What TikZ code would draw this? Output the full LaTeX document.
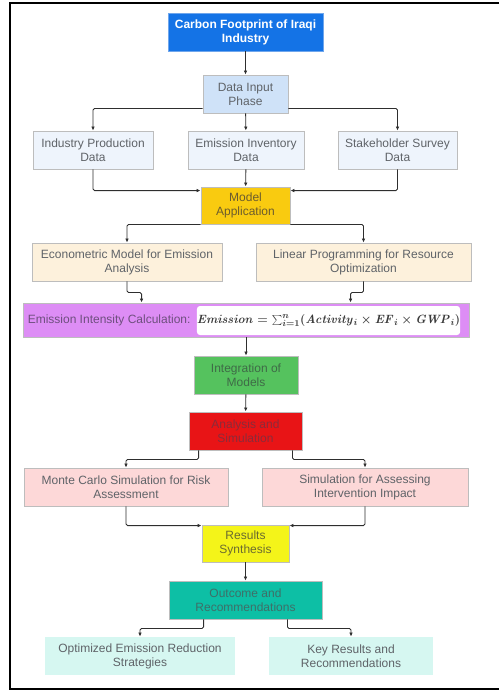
\documentclass[tikz,border=0pt]{standalone}
\usepackage[no-math]{fontspec}
\setmainfont{Liberation Sans}
\usetikzlibrary{arrows.meta,calc}
\definecolor{txt}{HTML}{5F6368}
\definecolor{bord}{HTML}{BDBDBD}
\definecolor{lnc}{HTML}{2E2E2E}
\definecolor{cTitle}{HTML}{1473E6}
\definecolor{cTitleB}{HTML}{6FA6EC}
\definecolor{cInput}{HTML}{CFE2F8}
\definecolor{cData}{HTML}{EEF4FC}
\definecolor{cModel}{HTML}{F9CB10}
\definecolor{tModel}{HTML}{6B5C2E}
\definecolor{cCream}{HTML}{FDF1DC}
\definecolor{cViolet}{HTML}{DD8DF5}
\definecolor{tViolet}{HTML}{6E4F7E}
\definecolor{tFormula}{HTML}{3A3A3A}
\definecolor{cGreen}{HTML}{55C25E}
\definecolor{tGreen}{HTML}{3F6B47}
\definecolor{cRed}{HTML}{E81416}
\definecolor{tRed}{HTML}{8B2B3A}
\definecolor{cPink}{HTML}{FDD8D8}
\definecolor{cYellow}{HTML}{F4F419}
\definecolor{tYellow}{HTML}{6B6B30}
\definecolor{cTeal}{HTML}{0DBFA5}
\definecolor{tTeal}{HTML}{3E6F68}
\definecolor{cCyan}{HTML}{D6F7F1}
\newcommand{\emformula}{\mbox{\boldmath$\mathit{Emission}=\sum\nolimits_{i=1}^{n}(\mathit{Activity}_{i}\times\mathit{EF}_{i}\times\mathit{GWP}_{i})$}}
\begin{document}
\begin{tikzpicture}[x=1pt,y=-1pt,
  box/.style={draw=bord,line width=0.9pt,inner sep=0pt,align=center,text=txt,
    font=\fontsize{12}{14}\selectfont},
  arr/.style={draw=lnc,line width=0.9pt,rounded corners=1.5pt,-{Latex[length=4pt,width=3.6pt]}},
  fbox/.style={fill=white,rounded corners=3pt,minimum width=263pt,minimum height=29pt,inner sep=0pt,text=tFormula,font=\fontsize{13}{14}\selectfont}
]
\useasboundingbox (0,0) rectangle (499,691);
\draw[line width=2pt] (499,3) -- (10,3) -- (10,689) -- (499,689);

% nodes
\node[box,fill=cTitle,draw=cTitleB,text=white,font=\fontsize{12}{14}\selectfont\bfseries,
  minimum width=155pt,minimum height=38pt] (title) at (245.5,32) {Carbon Footprint of Iraqi\\Industry};
\node[box,fill=cInput,minimum width=85pt,minimum height=38pt] (input) at (245.5,94) {Data Input\\Phase};
\node[box,fill=cData,minimum width=120pt,minimum height=38pt] (ind) at (93,150) {Industry Production\\Data};
\node[box,fill=cData,minimum width=116pt,minimum height=38pt] (inv) at (246,150) {Emission Inventory\\Data};
\node[box,fill=cData,minimum width=119pt,minimum height=38pt] (stake) at (397.5,150) {Stakeholder Survey\\Data};
\node[box,fill=cModel,text=tModel,minimum width=89pt,minimum height=37pt] (model) at (245.5,205.5) {Model\\Application};
\node[box,fill=cCream,minimum width=190pt,minimum height=38pt] (econ) at (127,262) {Econometric Model for Emission\\Analysis};
\node[box,fill=cCream,minimum width=215pt,minimum height=38pt] (lin) at (363.5,262) {Linear Programming for Resource\\Optimization};
\node[box,fill=cViolet,minimum width=446pt,minimum height=34pt] (emis) at (246,320) {};
\node[anchor=west,inner sep=0pt,text=tViolet,font=\fontsize{12}{14}\selectfont] (emislab) at ([xshift=5pt]emis.west) {Emission Intensity Calculation:};
\node[fbox] (formula) at (328.5,320.5) {\emformula};
\node[box,fill=cGreen,text=tGreen,minimum width=104pt,minimum height=38pt] (integ) at (246,375) {Integration of\\Models};
\node[box,fill=cRed,text=tRed,minimum width=113pt,minimum height=38pt] (anal) at (245.5,431) {Analysis and\\Simulation};
\node[box,fill=cPink,minimum width=204pt,minimum height=38pt] (monte) at (126,487) {Monte Carlo Simulation for Risk\\Assessment};
\node[box,fill=cPink,minimum width=206pt,minimum height=38pt] (simul) at (365,487) {Simulation for Assessing\\Intervention Impact};
\node[box,fill=cYellow,text=tYellow,minimum width=87pt,minimum height=37pt] (results) at (245.5,543.5) {Results\\Synthesis};
\node[box,fill=cTeal,text=tTeal,minimum width=153pt,minimum height=38pt] (outcome) at (245.5,600) {Outcome and\\Recommendations};
\node[box,fill=cCyan,draw=none,minimum width=190pt,minimum height=38pt] (opt) at (140,656) {Optimized Emission Reduction\\Strategies};
\node[box,fill=cCyan,draw=none,minimum width=164pt,minimum height=38pt] (key) at (351,656) {Key Results and\\Recommendations};

% connectors
\draw[arr] (title) -- (input);
\draw[arr] ([yshift=5pt]input.south west) -| (ind.north);
\draw[arr] ([yshift=5pt]input.south east) -| (stake.north);
\draw[arr] (input) -- (inv);
\draw[arr] (ind.south) |- ([yshift=-4pt]model.north west);
\draw[arr] (stake.south) |- ([yshift=-4pt]model.north east);
\draw[arr] (inv) -- (model);
\draw[arr] (model.south west) -| (econ.north);
\draw[arr] (model.south east) -| (lin.north);
\coordinate (e1) at ($(emis.north west)+(119,0)$);
\coordinate (e2) at ($(emis.north west)+(328,0)$);
\draw[arr] (econ.south) -- ++(0,11) -| (e1);
\draw[arr] (lin.south) -- ++(0,11) -| (e2);
\draw[arr] (emis) -- (integ);
\draw[arr] (integ) -- (anal);
\draw[arr] ([xshift=10pt]anal.south west) -- ++(0,9) -| (monte.north);
\draw[arr] ([xshift=-10pt]anal.south east) -- ++(0,9) -| (simul.north);
\draw[arr] (monte.south) |- ([yshift=-1pt]results.north west);
\draw[arr] (simul.south) |- ([yshift=-1pt]results.north east);
\draw[arr] (results) -- (outcome);
\draw[arr] ([xshift=35pt]outcome.south west) -- ++(0,9) -| (opt.north);
\draw[arr] ([xshift=-35pt]outcome.south east) -- ++(0,9) -| (key.north);
\end{tikzpicture}
\end{document}
